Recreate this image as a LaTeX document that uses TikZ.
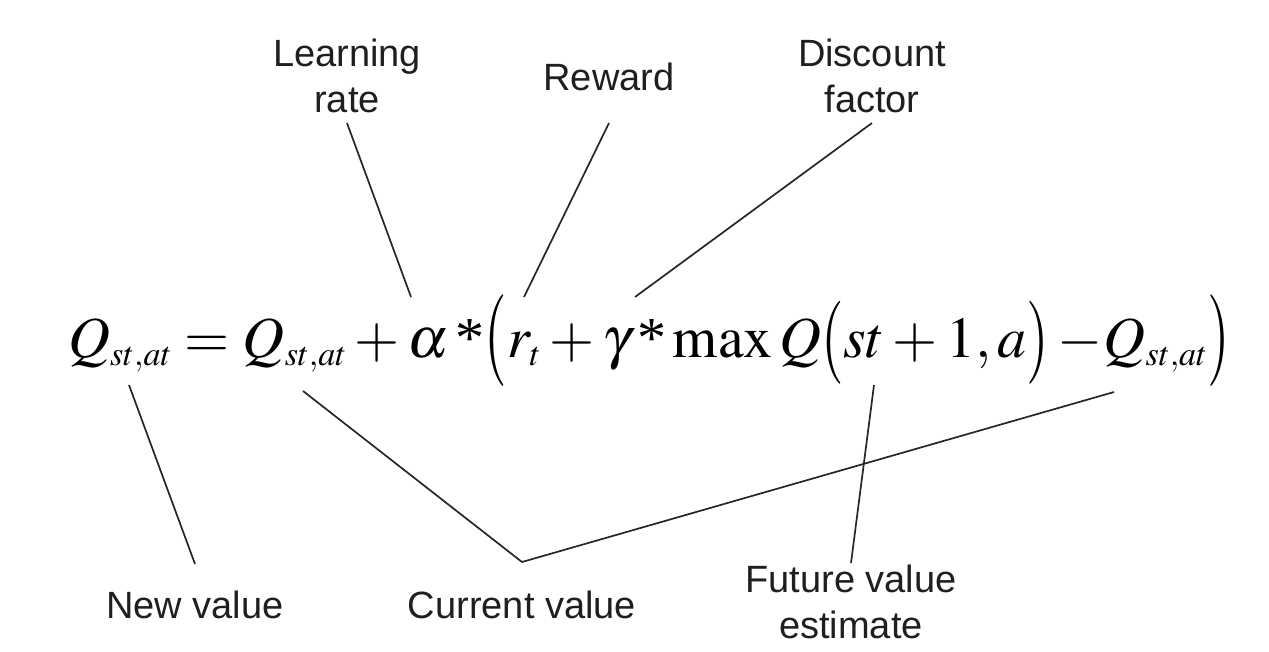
\documentclass[tikz,border=0pt]{standalone}
\usepackage{amsmath}
\usepackage{graphicx}
\usepackage{mathptmx}
\usepackage[no-math]{fontspec}
\setmainfont{Liberation Serif}
\setsansfont{Liberation Sans}
\usetikzlibrary{positioning}
\DeclareMathSizes{58}{58}{34}{26}
\newcommand\tallopen[1]{\mathopen{\raisebox{-6pt}{\scalebox{1}[#1]{$($}}}}
\newcommand\tallclose[1]{\mathclose{\raisebox{-6pt}{\scalebox{1}[#1]{$)$}}}}

\begin{document}
\begin{tikzpicture}[x=1pt, y=-1pt,
    lbl/.style={font=\fontsize{38}{46}\selectfont\sffamily, align=center,
      inner xsep=0pt, inner ysep=10pt, text=black!88},
    eqn/.style={font=\fontsize{58}{62}\selectfont, inner sep=0pt,
      anchor=base west, text=black},
    link/.style={draw=black!85, line width=1.7pt}]

  \useasboundingbox (0,0) rectangle (1269,651);

  \node[eqn] (qrule) at (68,357) {$\medmuskip=2.5mu\relax
      Q_{st,at} = Q_{st,at} + \alpha\,\text{*}\tallopen{1.58}r_t
      + \gamma\,\text{*} \max Q\tallopen{1.43}st+1,a\tallclose{1.43}
      - \! Q_{st,at}\tallclose{1.58}$};

  \coordinate (lr-end) at (411,297); \coordinate (rw-end) at (524,297);
  \coordinate (df-end) at (635,297); \coordinate (nv-end) at (129,385);
  \coordinate (cv-a) at (303,391); \coordinate (cv-b) at (1114,392);
  \coordinate (fv-end) at (874,385);

  \node[lbl, anchor=south] (lrate) at (347,123) {Learning\\rate};
  \node[lbl, anchor=south] (reward) at (609,101) {Reward};
  \node[lbl, anchor=south] (discount) at (872,123) {Discount\\factor};

  \node[lbl, anchor=north] (newval) at (195,581) {New value};
  \node[lbl, anchor=north] (curval) at (522,581) {Current value};
  \node[lbl, anchor=north] (futval) at (851,555) {Future value\\estimate};

  \draw[link] (lrate.south) -- (lr-end);
  \draw[link] ([yshift=-22pt]reward.south) -- (rw-end);
  \draw[link] (discount.south) -- (df-end);

  \draw[link] ([yshift=17pt]newval.north) -- (nv-end);
  \draw[link] (cv-a) -- ([yshift=19pt]curval.north) -- (cv-b);
  \draw[link] ([yshift=-8pt]futval.north) -- (fv-end);

\end{tikzpicture}
\end{document}
